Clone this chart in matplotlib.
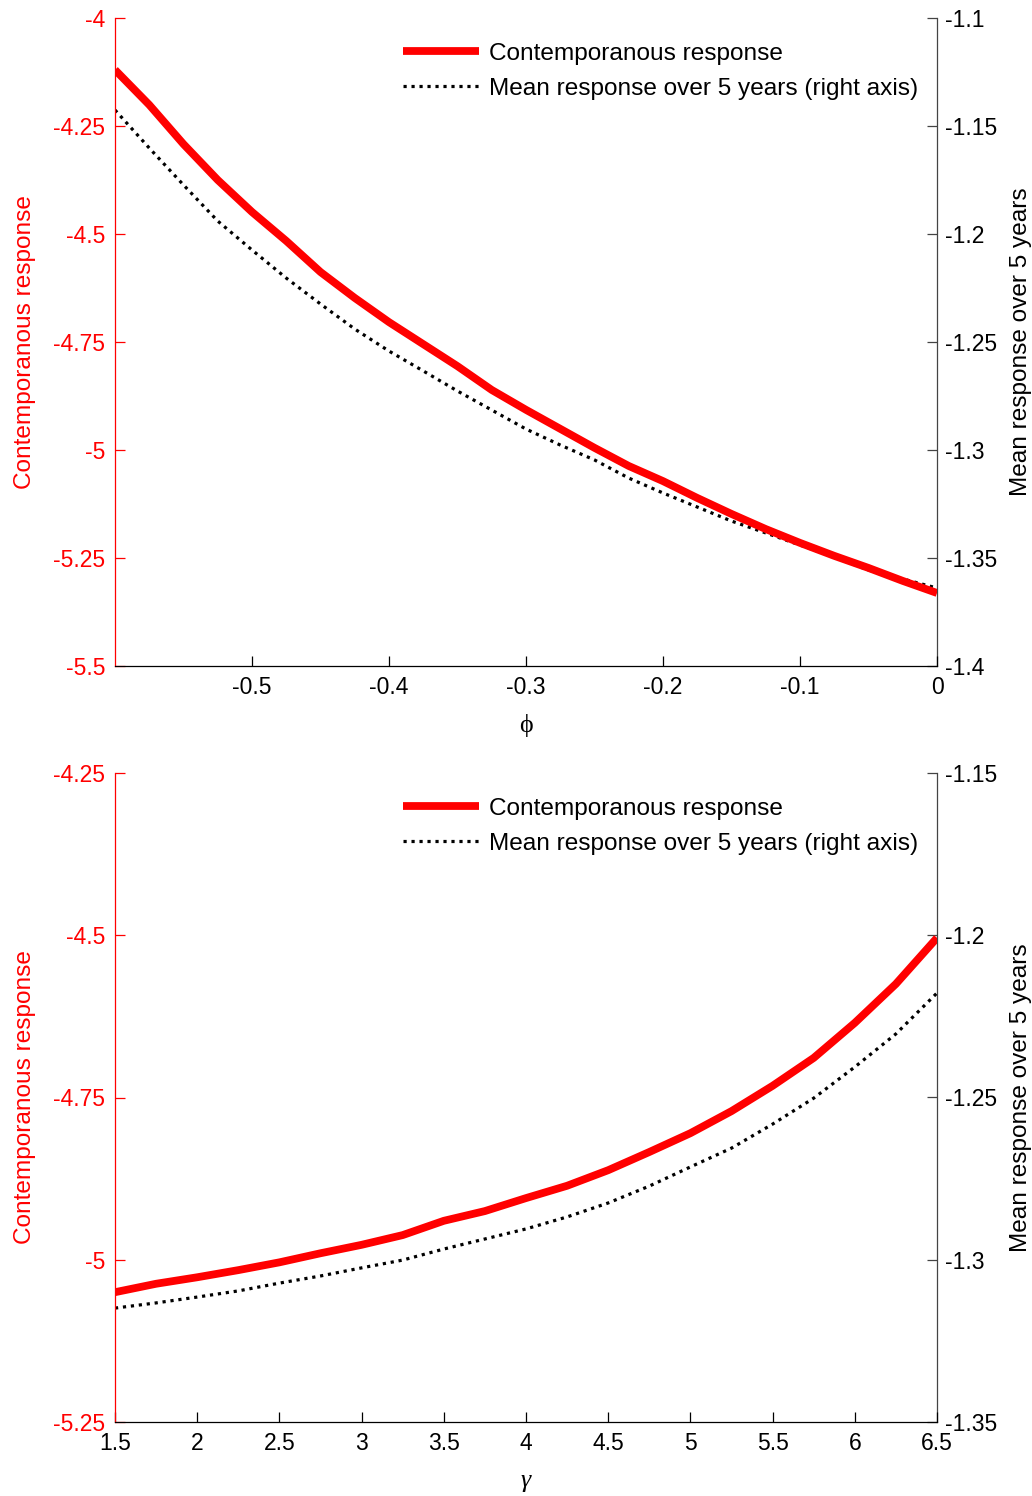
import matplotlib
matplotlib.use("Agg")
import matplotlib.pyplot as plt
import numpy as np
from matplotlib.lines import Line2D

plt.rcParams['font.family'] = ['Liberation Sans', 'DejaVu Sans']
plt.rcParams['axes.unicode_minus'] = False

# ---------------- data: top panel (phi) ----------------
phi = [-0.6, -0.575, -0.55, -0.525, -0.5, -0.475, -0.45, -0.425, -0.4, -0.375,
       -0.35, -0.325, -0.3, -0.275, -0.25, -0.225, -0.2, -0.175, -0.15, -0.125,
       -0.1, -0.075, -0.05, -0.025, 0.0]
contemp_phi = [-4.120, -4.201, -4.292, -4.375, -4.449, -4.516, -4.588, -4.648, -4.704, -4.755,
               -4.806, -4.861, -4.907, -4.951, -4.995, -5.037, -5.072, -5.111, -5.148, -5.183,
               -5.215, -5.245, -5.273, -5.303, -5.331]
mean5_phi = [-1.1426, -1.1602, -1.1773, -1.1940, -1.2074, -1.2204, -1.2324, -1.2440, -1.2542, -1.2634,
             -1.2727, -1.2815, -1.2903, -1.2977, -1.3046, -1.3130, -1.3199, -1.3264, -1.3329, -1.3384,
             -1.3440, -1.3495, -1.3556, -1.3597, -1.3639]

# ---------------- data: bottom panel (gamma) ----------------
gamma = [1.5, 1.75, 2.0, 2.25, 2.5, 2.75, 3.0, 3.25, 3.5, 3.75, 4.0,
         4.25, 4.5, 4.75, 5.0, 5.25, 5.5, 5.75, 6.0, 6.25, 6.5]
contemp_gamma = [-5.050, -5.037, -5.027, -5.016, -5.004, -4.990, -4.977, -4.962, -4.940, -4.925, -4.905,
                 -4.886, -4.862, -4.834, -4.805, -4.771, -4.732, -4.689, -4.635, -4.575, -4.504]
mean5_gamma = [-1.3149, -1.3133, -1.3115, -1.3096, -1.3072, -1.3050, -1.3025, -1.3001, -1.2967, -1.2936, -1.2905,
               -1.2868, -1.2825, -1.2773, -1.2714, -1.2656, -1.2582, -1.2502, -1.2406, -1.2304, -1.2178]

# tick definitions
top_xticks = [-0.5, -0.4, -0.3, -0.2, -0.1, 0]
top_lticks = [-4, -4.25, -4.5, -4.75, -5, -5.25, -5.5]
top_rticks = [-1.1, -1.15, -1.2, -1.25, -1.3, -1.35, -1.4]
bot_xticks = [1.5, 2, 2.5, 3, 3.5, 4, 4.5, 5, 5.5, 6, 6.5]
bot_lticks = [-4.25, -4.5, -4.75, -5, -5.25]
bot_rticks = [-1.15, -1.2, -1.25, -1.3, -1.35]

leg_labels = ['Contemporanous response', 'Mean response over 5 years (right axis)']
left_label = 'Contemporanous response'
right_label = 'Mean response over 5 years'

FS = 16.5   # tick labels
LFS = 17.6  # legend and axis labels
RED = '#ff0000'
W, H = 1032, 1496
fig = plt.figure(figsize=(W / 100, H / 100), dpi=100)


def fmt(v):
    return '%g' % v


def panel(rect, x, yl, yr, xlim, ylim_l, ylim_r, xticks, lticks, rticks, xlabel, xstyle):
    ax = fig.add_axes(rect)
    axr = ax.twinx()
    ax.plot(x, yl, color=RED, lw=5.6, solid_capstyle='butt', solid_joinstyle='round', zorder=3)
    axr.plot(x, yr, color='black', lw=2.3, linestyle=(0, (1.0, 1.5)),
             dash_capstyle='butt', zorder=3)
    ax.set_xlim(*xlim)
    ax.set_ylim(*ylim_l)
    axr.set_ylim(*ylim_r)
    ax.set_xticks(xticks)
    ax.set_xticklabels([fmt(v) for v in xticks])
    ax.set_yticks(lticks)
    ax.set_yticklabels([fmt(v) for v in lticks])
    axr.set_yticks(rticks)
    axr.set_yticklabels([fmt(v) for v in rticks])

    for s in ['top', 'right']:
        ax.spines[s].set_visible(False)
    for s in ['top', 'left', 'bottom']:
        axr.spines[s].set_visible(False)
    ax.spines['left'].set_color(RED)
    ax.spines['left'].set_linewidth(0.9)
    ax.spines['bottom'].set_color('black')
    ax.spines['bottom'].set_linewidth(0.9)
    axr.spines['right'].set_color('#444444')
    axr.spines['right'].set_linewidth(0.9)

    ax.tick_params(axis='x', direction='in', length=7, width=0.9, colors='black',
                   labelsize=FS, pad=7)
    ax.tick_params(axis='y', direction='in', length=7, width=0.9, colors=RED,
                   labelsize=FS, pad=7)
    axr.tick_params(axis='y', direction='in', length=7, width=0.9, colors='#444444',
                    labelcolor='black', labelsize=FS, pad=6)

    ax.set_ylabel(left_label, color=RED, fontsize=LFS, labelpad=12)
    axr.set_ylabel(right_label, color='black', fontsize=LFS, labelpad=9)
    ax.set_xlabel(xlabel, fontsize=LFS + 1, family=['Liberation Serif', 'DejaVu Serif'],
                  style=xstyle, labelpad=11)

    handles = [Line2D([], [], color=RED, lw=5.6, solid_capstyle='butt'),
               Line2D([], [], color='black', lw=2.3, linestyle=(0, (1.0, 1.5)), dash_capstyle='butt')]
    axr.legend(handles, leg_labels, loc='upper right', bbox_to_anchor=(0.9765, 0.962),
               frameon=False, fontsize=LFS, handlelength=3.1, handletextpad=0.4,
               labelspacing=0.52, borderpad=0, borderaxespad=0)
    ax.set_zorder(axr.get_zorder() + 1)
    ax.patch.set_visible(False)
    return ax, axr


def rect(l, t, r, b):
    return [l / W, 1 - b / H, (r - l) / W, (b - t) / H]


panel(rect(115, 18, 937, 666), phi, contemp_phi, mean5_phi, (-0.6, 0), (-5.5, -4), (-1.4, -1.1),
      top_xticks, top_lticks, top_rticks, 'ϕ', 'normal')
panel(rect(115, 773, 937, 1422), gamma, contemp_gamma, mean5_gamma, (1.5, 6.5), (-5.25, -4.25),
      (-1.35, -1.15), bot_xticks, bot_lticks, bot_rticks, 'γ', 'italic')

fig.savefig('out.png', dpi=100)
